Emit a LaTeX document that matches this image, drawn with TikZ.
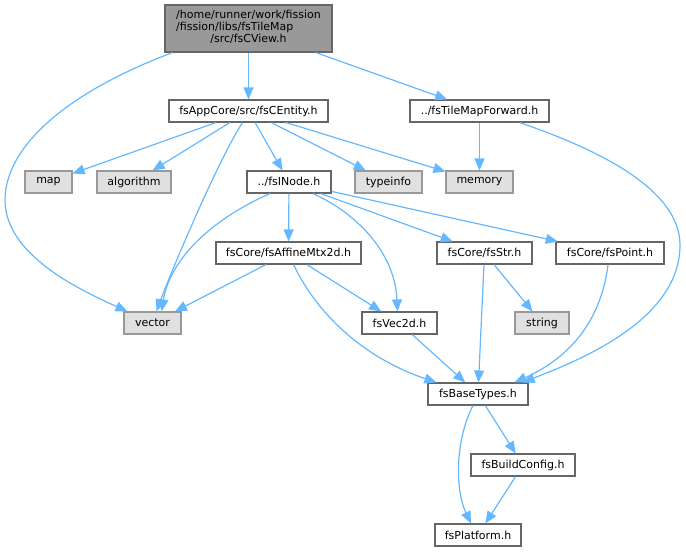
\documentclass[tikz,border=0pt]{standalone}
\usepackage{fontspec}
\setmainfont{DejaVu Sans}
\usepackage{tikz}
\usetikzlibrary{arrows.meta}
\definecolor{edgeblue}{HTML}{63B8FF}
\definecolor{boxline}{HTML}{666666}
\definecolor{sysline}{HTML}{999999}
\definecolor{sysfill}{HTML}{E0E0E0}
\tikzset{
  hfile/.style={draw=boxline, fill=white, line width=1.1pt, inner sep=0pt,
    minimum height=22pt, font=\fontsize{11}{12}\selectfont},
  sysfile/.style={hfile, draw=sysline, fill=sysfill},
  topfile/.style={hfile, fill=sysline, minimum height=47pt},
  incl/.style={draw=edgeblue, line width=1.2pt, -{Triangle[length=12pt,width=10pt]}}
}

\begin{document}
\begin{tikzpicture}[x=1pt, y=-1pt]
  \useasboundingbox (0,0) rectangle (686,552);             % picture frame
  % files
  \node [topfile, minimum width=167pt] (view) at (248.5,28.5)
    {\begin{tabular}{@{}l@{}}/home/runner/work/fission\\/fission/libs/fsTileMap\\\multicolumn{1}{@{}c@{}}{/src/fsCView.h}\end{tabular}};
  \node [hfile, minimum width=159pt] (entity) at (248.5,111) {fsAppCore/src/fsCEntity.h};
  \node [hfile, minimum width=139pt] (fwd) at (479.5,111) {../fsTileMapForward.h};
  \node [sysfile, minimum width=47pt] (map) at (48.5,182) {map};
  \node [sysfile, minimum width=74pt] (algo) at (134,182) {algorithm};
  \node [hfile, minimum width=84pt] (inode) at (289,182) {../fsINode.h};
  \node [sysfile, minimum width=67pt] (typeinfo) at (388.5,182) {typeinfo};
  \node [sysfile, minimum width=67pt] (memory) at (479.5,182) {memory};
  \node [hfile, minimum width=145pt] (affine) at (288.5,253) {fsCore/fsAffineMtx2d.h};
  \node [hfile, minimum width=95pt] (str) at (484.5,253) {fsCore/fsStr.h};
  \node [hfile, minimum width=108pt] (point) at (610,253) {fsCore/fsPoint.h};
  \node [sysfile, minimum width=57pt] (vector) at (152.5,323) {vector};
  \node [hfile, minimum width=75pt] (vec2d) at (399.5,323) {fsVec2d.h};
  \node [sysfile, minimum width=54pt] (string) at (542,323) {string};
  \node [hfile, minimum width=100pt] (base) at (478,394) {fsBaseTypes.h};
  \node [hfile, minimum width=104pt] (build) at (523,465) {fsBuildConfig.h};
  \node [hfile, minimum width=86pt] (platform) at (478,535) {fsPlatform.h};

  % includes of fsCView.h
  \draw [incl] ([xshift=8pt]view.south west) .. controls (60,95) and (5,150) .. (5,200)
    .. controls (5,255) and (80,290) .. ([xshift=4pt]vector.north west);
  \draw [incl] (view) -- (entity);
  \draw [incl] (view) -- (fwd);
  % includes of fsCEntity.h
  \draw [incl] (entity) -- (map);
  \draw [incl] (entity) -- (algo);
  \draw [incl] ([xshift=-6pt]entity.south) .. controls (217,162) and (169,277) .. ([xshift=4pt]vector.north);
  \draw [incl] (entity) -- (inode);
  \draw [incl] (entity) -- (typeinfo);
  \draw [incl] (entity) -- (memory);
  % includes of fsTileMapForward.h
  \draw [incl] (fwd) -- (memory);
  \draw [incl] ([xshift=-30pt]fwd.south east) .. controls (600,150) and (680,190) .. (680,245)
    .. controls (680,320) and (580,360) .. ([xshift=-6pt]base.north east);
  % includes of fsINode.h
  \draw [incl] ([xshift=-19pt]inode.south) .. controls (210,220) and (170,260) .. ([xshift=9pt]vector.north);
  \draw [incl] (inode) -- (affine);
  \draw [incl] ([xshift=24pt]inode.south) .. controls (360,215) and (395,255) .. ([xshift=-2pt]vec2d.north);
  \draw [incl] (inode) -- (str);
  \draw [incl] (inode) -- (point);
  % includes of fsAffineMtx2d.h
  \draw [incl] (affine) -- (vector);
  \draw [incl] (affine) -- (vec2d);
  \draw [incl] ([xshift=5pt]affine.south) .. controls (320,320) and (370,360) .. ([xshift=9pt]base.north west);
  % includes of fsStr.h and fsPoint.h
  \draw [incl] (str) -- (base);
  \draw [incl] (str) -- (string);
  \draw [incl] ([xshift=-2pt]point.south) .. controls (600,330) and (560,362) .. ([xshift=-14pt]base.north east);
  \draw [incl] (vec2d) -- (base);
  % includes of fsBaseTypes.h
  \draw [incl] (base) -- (build);
  \draw [incl] ([xshift=-5pt]base.south) .. controls (455,440) and (455,490) .. ([xshift=-7pt]platform.north);
  \draw [incl] (build) -- (platform);
\end{tikzpicture}
\end{document}
